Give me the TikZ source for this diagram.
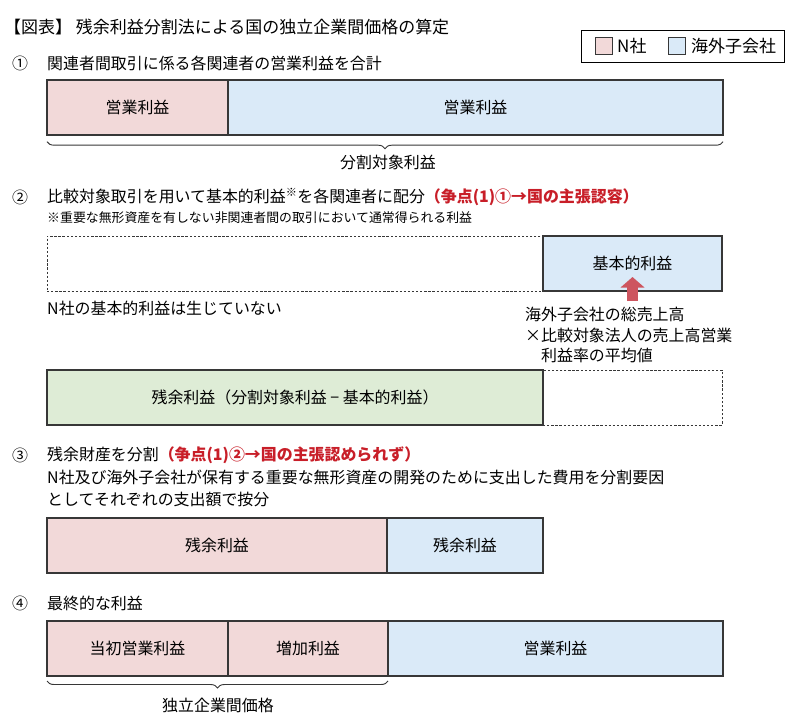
\documentclass[tikz,border=0pt]{standalone}
\usepackage{fontspec}
\setmainfont{Noto Sans CJK JP}
\usetikzlibrary{positioning,decorations.pathreplacing,arrows.meta}
\definecolor{nsha}{RGB}{242,217,217}
\definecolor{kaigai}{RGB}{218,234,248}
\definecolor{zanyo}{RGB}{222,236,214}
\definecolor{waku}{RGB}{55,55,55}
\definecolor{soten}{RGB}{200,30,40}
\definecolor{yajirushi}{RGB}{205,85,95}
\begin{document}
\begin{tikzpicture}[x=0.03cm, y=-0.03cm,
    every node/.style={font=\fontsize{13.6}{17}\selectfont, inner sep=0pt},
    bar/.style={draw=waku, line width=1pt, outer sep=0pt, minimum height=1.65cm, anchor=north west},
    dashbar/.style={draw=waku, line width=0.7pt, outer sep=0pt, dash pattern=on 2pt off 1.5pt, minimum height=1.65cm, anchor=north west},
    kakko/.style={draw=waku, line width=0.8pt, decorate, decoration={brace, mirror, amplitude=6pt}}]
        \useasboundingbox (0,0) rectangle (800,726);

        % Title and legend
        \node[anchor=west, font=\fontsize{14.5}{17}\selectfont] (title) at (4,27) {【図表】 残余利益分割法による国の独立企業間価格の算定};
        \node[draw=black, line width=0.6pt, minimum width=6.09cm, minimum height=0.96cm, anchor=north west] (legend) at (581,30) {};
        \node[draw=waku, fill=nsha, minimum size=0.52cm] (legn) at (604,46) {};
        \node[anchor=west, font=\fontsize{14.5}{17}\selectfont] (legntext) at (617,46) {N社};
        \node[draw=waku, fill=kaigai, minimum size=0.52cm] (legk) at (677,46) {};
        \node[anchor=west, font=\fontsize{14.5}{17}\selectfont] (legktext) at (691,46) {海外子会社};

        % Step 1: operating profits added up
        \node[anchor=west] (s1no) at (12,63) {①};
        \node[anchor=west] (s1) at (47,63) {関連者間取引に係る各関連者の営業利益を合計};
        \node[bar, fill=nsha, minimum width=5.43cm] (r1n) at (47,80) {営業利益};
        \node[bar, fill=kaigai, minimum width=14.85cm, right=0pt of r1n] (r1k) {営業利益};
        \draw[kakko] ([yshift=-0.2cm]r1n.south west) -- ([yshift=-0.2cm]r1k.south east);
        \node (r1lab) at (388,162) {分割対象利益};

        % Step 2: basic profit
        \node[anchor=west] (s2no) at (12,197) {②};
        \node[anchor=west] (s2) at (47,197) {比較対象取引を用いて基本的利益\textsuperscript{※}を各関連者に配分{\color{soten}\bfseries （争点(1)①→国の主張認容）}};
        \node[anchor=west, font=\fontsize{11}{13}\selectfont] (s2note) at (47,218) {※重要な無形資産を有しない非関連者間の取引において通常得られる利益};
        \node[dashbar, minimum width=14.88cm] (r2n) at (47,236) {};
        \node[bar, fill=kaigai, minimum width=5.37cm, right=0pt of r2n] (r2k) {基本的利益};
        \node[anchor=west] (r2none) at (47,308) {N社の基本的利益は生じていない};
        \node[anchor=north west, align=left, font=\fontsize{13.6}{17.4}\selectfont] (r2calc) at (525,307) {海外子会社の総売上高\\×比較対象法人の売上高営業\\\hspace{1em}利益率の平均値};
        \draw[draw=yajirushi, line width=9pt, -{Triangle[width=20pt,length=9pt]}] ([yshift=-0.3cm]r2k.south) -- ([yshift=0.42cm]r2k.south);

        % Residual profit
        \node[bar, fill=zanyo, minimum width=14.88cm] (r2z) at (47,370) {残余利益（分割対象利益 − 基本的利益）};
        \node[dashbar, minimum width=5.37cm, right=0pt of r2z] (r2d) {};

        % Step 3: residual profit split
        \node[anchor=west] (s3no) at (12,455) {③};
        \node[anchor=west] (s3) at (47,455) {残余財産を分割{\color{soten}\bfseries （争点(1)②→国の主張認められず）}};
        \node[anchor=north west, align=left, font=\fontsize{13.6}{18.7}\selectfont] (s3text) at (47,470) {N社及び海外子会社が保有する重要な無形資産の開発のために支出した費用を分割要因\\としてそれぞれの支出額で按分};
        \node[bar, fill=nsha, minimum width=10.2cm] (r3n) at (47,518) {残余利益};
        \node[bar, fill=kaigai, minimum width=4.68cm, right=0pt of r3n] (r3k) {残余利益};

        % Step 4: final profit
        \node[anchor=west] (s4no) at (12,603) {④};
        \node[anchor=west] (s4) at (47,603) {最終的な利益};
        \node[bar, fill=nsha, minimum width=5.43cm] (r4a) at (47,621) {当初営業利益};
        \node[bar, fill=nsha, minimum width=4.8cm, right=0pt of r4a] (r4b) {増加利益};
        \node[bar, fill=kaigai, minimum width=10.05cm, right=0pt of r4b] (r4k) {営業利益};
        \draw[kakko] ([yshift=-0.15cm]r4a.south west) -- ([yshift=-0.15cm]r4b.south east);
        \node (r4lab) at (218,705) {独立企業間価格};
    \end{tikzpicture}
\end{document}
